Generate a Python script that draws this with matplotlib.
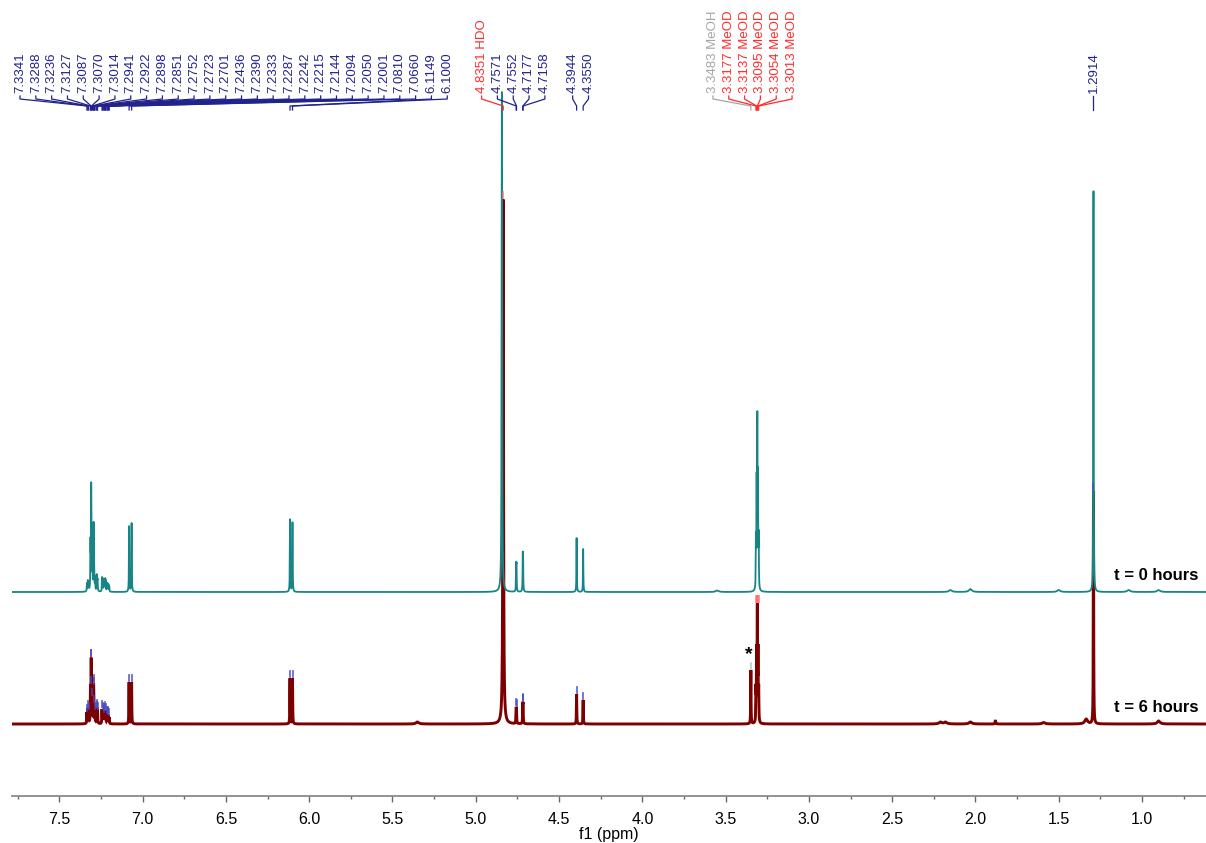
import numpy as np
import matplotlib
matplotlib.use('Agg')
import matplotlib.pyplot as plt
from matplotlib.ticker import MultipleLocator, FormatStrFormatter

plt.rcParams['font.family'] = ['Liberation Sans', 'DejaVu Sans']

# peaks: shift (ppm), height above baseline at t=0 and t=6 h, half width (ppm)
peak_ppm = [7.3341, 7.3288, 7.3236, 7.3127, 7.3087, 7.3070, 7.3014, 7.2941, 7.2922,
            7.2898, 7.2851, 7.2752, 7.2723, 7.2701, 7.2436, 7.2390, 7.2333, 7.2287,
            7.2242, 7.2215, 7.2144, 7.2094, 7.2050, 7.2001, 7.0810, 7.0660, 6.1149,
            6.1000, 4.8430, 4.8351, 4.7571, 4.7552, 4.7177, 4.7158, 4.3944, 4.3550,
            3.3483, 3.3177, 3.3137, 3.3095, 3.3054, 3.3013, 1.2914,
            5.35, 3.55, 2.21, 2.18, 2.15, 2.03, 1.88, 1.59, 1.50, 1.335, 1.08, 0.90]
height_t0 = [9, 12, 11, 55, 109, 90, 40, 70, 45,
             22, 16, 18, 15, 13, 15, 14, 11, 13,
             14, 12, 9, 9, 8, 6, 66, 69, 73,
             70, 500, 0, 30, 29, 40, 39, 54, 43,
             0, 60, 120, 181, 125, 62, 401,
             0, 1.5, 0, 0, 2, 3, 0, 0, 2, 0, 2, 2]
height_t6 = [12, 16, 14, 40, 66, 55, 28, 41, 30,
             16, 13, 17, 15, 13, 15, 14, 11, 13,
             14, 12, 9, 10, 9, 7, 42, 42, 46,
             46, 0, 525, 17, 16, 22, 21, 30, 24,
             54, 40, 80, 121, 80, 40, 233,
             2, 0, 2, 2, 0, 2, 4, 1.5, 0, 5, 0, 3]
peak_width = [0.0012] * 28 + [0.0017, 0.0022] + [0.0012] * 13 + \
             [0.01, 0.01, 0.01, 0.01, 0.01, 0.01, 0.002, 0.01, 0.01, 0.01, 0.01, 0.01]

# peak labels printed above the spectra
label_ppm = [7.3341, 7.3288, 7.3236, 7.3127, 7.3087, 7.3070, 7.3014, 7.2941, 7.2922,
             7.2898, 7.2851, 7.2752, 7.2723, 7.2701, 7.2436, 7.2390, 7.2333, 7.2287,
             7.2242, 7.2215, 7.2144, 7.2094, 7.2050, 7.2001, 7.0810, 7.0660, 6.1149,
             6.1000, 4.8351, 4.7571, 4.7552, 4.7177, 4.7158, 4.3944, 4.3550,
             3.3483, 3.3177, 3.3137, 3.3095, 3.3054, 3.3013, 1.2914]
label_tag = [''] * 28 + ['HDO', '', '', '', '', '', '', 'MeOH'] + ['MeOD'] * 5 + ['']
label_group = [0] * 28 + [1] * 5 + [2] * 2 + [3] * 6 + [4]

spectra_names = ['t = 0 hours', 't = 6 hours']

tick_values = np.arange(1.0, 7.51, 0.5)

TEAL = '#178585'
MAROON = '#7d0000'
tag_color = {'': '#22228c', 'HDO': '#ff2b2b', 'MeOD': '#ff2b2b', 'MeOH': '#a5a5a5'}
mark_color = {'': '#4646c0', 'HDO': '#ff7070', 'MeOD': '#ff7070', 'MeOH': '#bdbdbd'}

Y0 = 796  # pixel row of the axis line, y data runs in pixels above it


def build(heights):
    p = np.array(peak_ppm)
    h = np.array(heights, float)
    w = np.array(peak_width)
    m = h > 0
    p, h, w = p[m], h[m], w[m]
    M = 1.0 / (1.0 + ((p[:, None] - p[None, :]) / w[None, :]) ** 2)
    amp = np.clip(np.linalg.lstsq(M, h, rcond=None)[0], 0, None)
    y = np.zeros_like(x)
    for a, c, g in zip(amp, p, w):
        y += a / (1.0 + ((x - c) / g) ** 2)
    return y


x = np.linspace(0.55, 7.85, 45000)
spec0 = build(height_t0) + (Y0 - 592)
spec6 = build(height_t6) + (Y0 - 724)

fig = plt.figure(figsize=(12.06, 8.43), dpi=100)
ax = fig.add_axes([12 / 1206, 47 / 843, 1194 / 1206, Y0 / 843])

ax.plot(x, spec6, color=MAROON, lw=2.1, solid_joinstyle='miter')
ax.plot(x, spec0, color=TEAL, lw=1.3)

# peak-pick marks on the t = 6 h trace
for ppm, tag in zip(label_ppm, label_tag):
    win = 0.01 if tag == 'MeOD' else 0.0015
    sel = (x > ppm - win) & (x < ppm + win)
    yp = spec6[sel].max()
    ax.plot([ppm, ppm], [yp + 1.5, yp + 7.5], color=mark_color[tag], lw=1.3, alpha=0.8)
    if tag == 'MeOH':
        ax.text(ppm + 0.01, yp + 7, '*', ha='center', va='bottom', fontsize=14,
                fontweight='bold', color='black')

# label texts and connector lines
group_start = [7.736, 4.965, 4.418, 3.576, 1.2914]
step = 0.095
count = {}
for ppm, tag, g in zip(label_ppm, label_tag, label_group):
    k = count.get(g, 0)
    count[g] = k + 1
    xt = group_start[g] - k * step
    col = tag_color[tag]
    txt = '%.4f' % ppm + (' ' + tag if tag else '')
    ax.text(xt, Y0 - 93, txt, rotation=90, ha='center', va='bottom', fontsize=9.5,
            color=col)
    ax.plot([xt, xt, ppm, ppm], [Y0 - 96, Y0 - 99, Y0 - 106, Y0 - 110], color=col,
            lw=0.9, solid_joinstyle='round')

for name, base in zip(spectra_names, [Y0 - 592, Y0 - 724]):
    ax.text(0.659, base + 9, name, ha='right', va='bottom', fontsize=12,
            fontweight='bold', color='black')

ax.set_xlim(7.784, 0.616)
ax.set_ylim(0, Y0)
for s in ['left', 'right', 'top']:
    ax.spines[s].set_visible(False)
ax.spines['bottom'].set_color('#8a8a8a')
ax.spines['bottom'].set_linewidth(1.3)
ax.set_yticks([])
ax.set_xticks(tick_values)
ax.xaxis.set_major_formatter(FormatStrFormatter('%.1f'))
ax.xaxis.set_minor_locator(MultipleLocator(0.25))
ax.tick_params(axis='x', which='major', direction='out', length=4.3, width=1,
               color='#666666', labelsize=11.5, pad=7.5)
ax.tick_params(axis='x', which='minor', direction='out', length=2.4, width=1,
               color='#666666')
ax.set_xlabel('f1 (ppm)', fontsize=11.5, labelpad=0)

fig.savefig('out.png', dpi=100)
